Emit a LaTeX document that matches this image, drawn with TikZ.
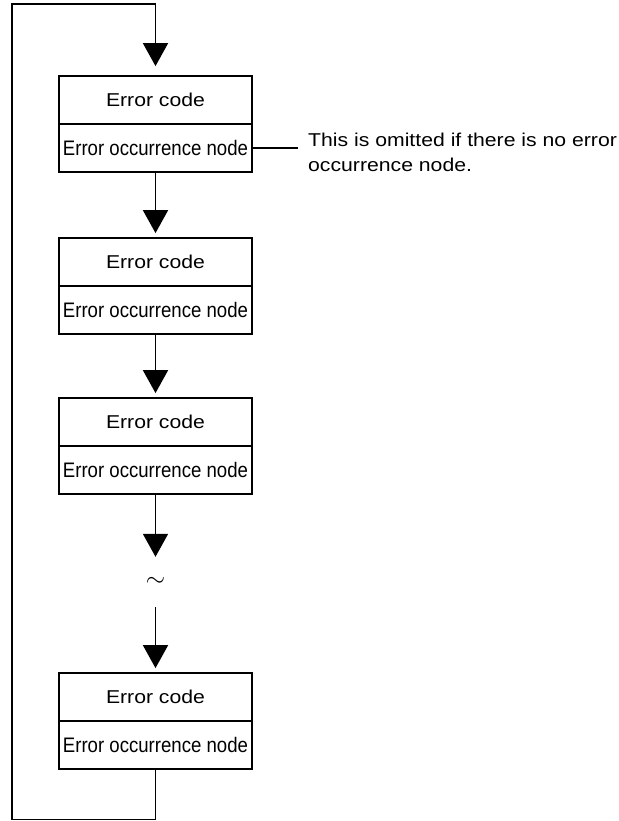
\documentclass[tikz,border=0pt]{standalone}
\usepackage{fontspec}
\setmainfont{Liberation Sans}
\newfontfamily\wideface[FakeStretch=1.14]{Liberation Sans}
\newfontfamily\narrowface[FakeStretch=0.886]{Liberation Sans}
\usetikzlibrary{arrows.meta,positioning,calc}

\begin{document}
\begin{tikzpicture}[x=1pt,y=-1pt,line join=miter,
  codebox/.style={draw, line width=1.8pt, minimum width=193pt, minimum height=48pt, inner sep=0pt, font=\wideface\fontsize{18.6}{22}\selectfont},
  occbox/.style={codebox, font=\narrowface\fontsize{21}{24}\selectfont},
  flow/.style={line width=1.8pt, -{Triangle[width=25pt,length=23pt]}, shorten >=4pt}]
\useasboundingbox (0,0) rectangle (618,821);
% record boxes
\foreach \i/\y in {1/76,2/238,3/398,4/673}{
  \node[codebox] (code\i) at (155.5,\y+24) {Error code};
  \node[occbox] (occ\i) at (155.5,\y+72) {Error occurrence node};
}
\node[minimum height=50pt, inner sep=0pt, font=\fontsize{24}{24}\selectfont] (gap) at (155.5,582) {$\sim$};
\node[anchor=west, inner sep=0pt, align=left, font=\wideface\fontsize{18.6}{25}\selectfont] (note) at (308,152) {This is omitted if there is no error\\occurrence node.};
\coordinate (loopbl) at (12,819.5);
\coordinate (looptop) at (155.5,4);
% connectors
\draw[flow] (occ1.south) -- (code2.north);
\draw[flow] (occ2.south) -- (code3.north);
\draw[flow, shorten >=0pt] (occ3.south) -- (gap.north);
\draw[flow] (gap.south) -- (code4.north);
\draw[flow, shorten >=9pt] (occ4.south) |- (loopbl) |- (looptop) -- (code1.north);
\draw[line width=1.8pt, shorten >=10pt] (occ1.east) -- (occ1.east -| note.west);
\end{tikzpicture}
\end{document}
